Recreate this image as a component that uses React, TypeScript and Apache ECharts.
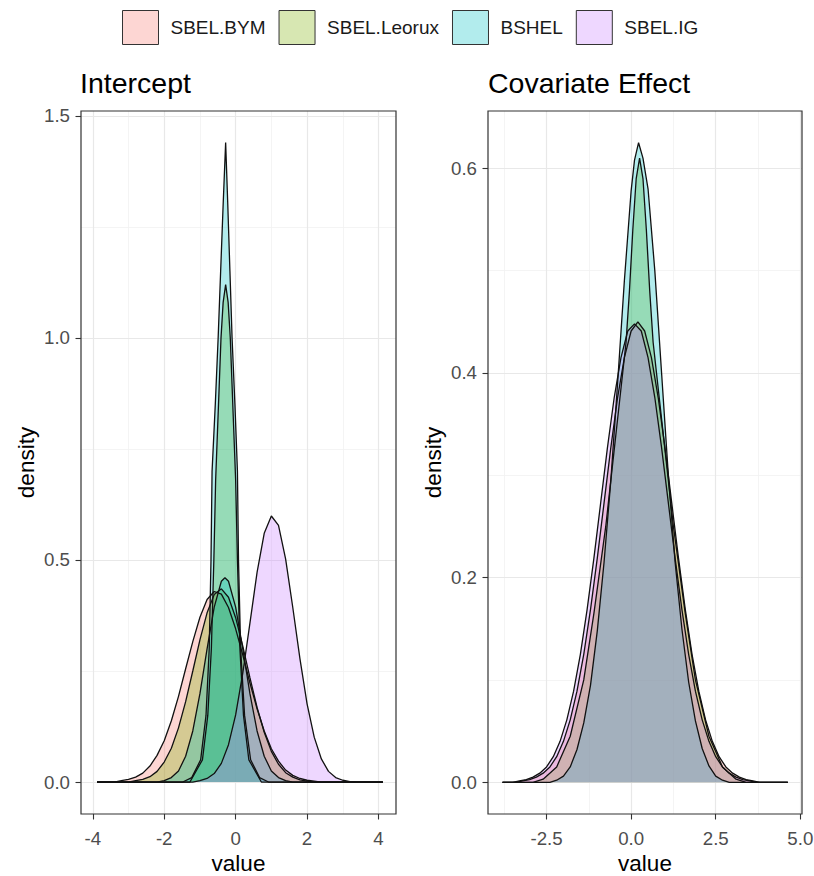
import React, { useEffect, useRef } from "react";
import * as echarts from "echarts";

type Point = [number, number];

const FONT = "'Liberation Sans', Arial, Helvetica, sans-serif";

const groups = ["SBEL.BYM", "SBEL.Leorux", "BSHEL", "SBEL.IG"];
const groupFills = [
  "rgba(248,118,109,0.3)",
  "rgba(124,174,0,0.3)",
  "rgba(0,191,196,0.3)",
  "rgba(199,124,255,0.3)",
];

const panelTitles = ["Intercept", "Covariate Effect"];
const xAxisTitle = "value";
const yAxisTitle = "density";

// Tick marks and grid lines
const interceptXTicks = [-4, -2, 0, 2, 4];
const interceptXMinor = [-3, -1, 1, 3];
const interceptYTicks = [0, 0.5, 1, 1.5];
const interceptYMinor = [0.25, 0.75, 1.25];
const covariateXTicks = [-2.5, 0, 2.5, 5];
const covariateXMinor = [-3.75, -1.25, 1.25, 3.75];
const covariateYTicks = [0, 0.2, 0.4, 0.6];
const covariateYMinor = [0.1, 0.3, 0.5];

// Intercept: posterior densities
const interceptBYM: Point[] = [
  [-3.88, 0], [-3.4, 0], [-3.2, 0.003], [-3.0, 0.006], [-2.8, 0.011], [-2.6, 0.02],
  [-2.4, 0.036], [-2.2, 0.06], [-2.0, 0.093], [-1.8, 0.138], [-1.6, 0.193], [-1.4, 0.255],
  [-1.2, 0.316], [-1.0, 0.371], [-0.8, 0.411], [-0.6, 0.429], [-0.4, 0.423], [-0.2, 0.393],
  [0, 0.345], [0.2, 0.286], [0.4, 0.223], [0.6, 0.165], [0.8, 0.115], [1.0, 0.075],
  [1.2, 0.047], [1.4, 0.027], [1.6, 0.015], [1.8, 0.008], [2.0, 0.004], [2.2, 0.002],
  [2.4, 0], [4.12, 0],
];
const interceptLeorux: Point[] = [
  [-3.88, 0], [-3.0, 0], [-2.8, 0.003], [-2.6, 0.006], [-2.4, 0.012], [-2.2, 0.024],
  [-2.0, 0.045], [-1.8, 0.076], [-1.6, 0.122], [-1.4, 0.181], [-1.2, 0.25], [-1.0, 0.32],
  [-0.8, 0.381], [-0.6, 0.422], [-0.4, 0.435], [-0.2, 0.416], [0, 0.37], [0.2, 0.306],
  [0.4, 0.235], [0.6, 0.168], [0.8, 0.112], [1.0, 0.069], [1.2, 0.04], [1.4, 0.021],
  [1.6, 0.011], [1.8, 0.005], [2.0, 0.002], [2.2, 0], [4.12, 0],
];
const interceptLeoruxPeak: Point[] = [
  [-3.88, 0], [-1.28, 0], [-0.93, 0.05], [-0.78, 0.15], [-0.68, 0.3], [-0.61, 0.5],
  [-0.56, 0.68], [-0.48, 0.85], [-0.41, 1.0], [-0.35, 1.08], [-0.28, 1.12], [-0.21, 1.08],
  [-0.15, 1.0], [-0.08, 0.85], [0.0, 0.68], [0.05, 0.5], [0.12, 0.3], [0.22, 0.15],
  [0.37, 0.05], [0.72, 0], [4.12, 0],
];
const interceptBSHEL: Point[] = [
  [-3.88, 0], [-2.2, 0], [-2.0, 0.003], [-1.8, 0.01], [-1.6, 0.025], [-1.4, 0.058],
  [-1.2, 0.115], [-1.0, 0.199], [-0.8, 0.3], [-0.6, 0.394], [-0.4, 0.452], [-0.3, 0.46],
  [-0.2, 0.452], [0, 0.394], [0.2, 0.3], [0.4, 0.199], [0.6, 0.115], [0.8, 0.058],
  [1.0, 0.025], [1.2, 0.01], [1.4, 0.003], [1.6, 0], [4.12, 0],
];
const interceptBSHELPeak: Point[] = [
  [-3.88, 0], [-1.48, 0], [-1.23, 0.01], [-0.98, 0.05], [-0.83, 0.15], [-0.74, 0.3],
  [-0.69, 0.5], [-0.66, 0.7], [-0.57, 0.85], [-0.49, 1.0], [-0.42, 1.15], [-0.35, 1.3],
  [-0.28, 1.44], [-0.22, 1.3], [-0.16, 1.15], [-0.1, 1.0], [-0.02, 0.85], [0.05, 0.7],
  [0.08, 0.5], [0.14, 0.3], [0.25, 0.15], [0.42, 0.05], [0.67, 0.01], [0.92, 0], [4.12, 0],
];
const interceptIG: Point[] = [
  [-3.88, 0], [-1.2, 0], [-1.0, 0.003], [-0.8, 0.008], [-0.6, 0.019], [-0.4, 0.042],
  [-0.2, 0.084], [0, 0.151], [0.2, 0.245], [0.4, 0.358], [0.6, 0.472], [0.8, 0.56],
  [1.0, 0.599], [1.2, 0.578], [1.4, 0.502], [1.6, 0.393], [1.8, 0.278], [2.0, 0.176],
  [2.2, 0.101], [2.4, 0.052], [2.6, 0.024], [2.8, 0.01], [3.0, 0.004], [3.2, 0.001],
  [3.4, 0], [4.12, 0],
];

// Covariate effect: posterior densities
const covariateBYM: Point[] = [
  [-3.8, 0], [-3.4, 0], [-3.2, 0.0014], [-3.0, 0.0027], [-2.8, 0.005], [-2.6, 0.0089],
  [-2.4, 0.015], [-2.2, 0.025], [-2.0, 0.04], [-1.8, 0.061], [-1.6, 0.089], [-1.4, 0.125],
  [-1.2, 0.169], [-1.0, 0.219], [-0.8, 0.273], [-0.6, 0.327], [-0.4, 0.376], [-0.2, 0.415],
  [0, 0.441], [0.2, 0.45], [0.4, 0.441], [0.6, 0.415], [0.8, 0.376], [1.0, 0.327],
  [1.2, 0.273], [1.4, 0.219], [1.6, 0.169], [1.8, 0.125], [2.0, 0.089], [2.2, 0.061],
  [2.4, 0.04], [2.6, 0.025], [2.8, 0.015], [3.0, 0.0089], [3.2, 0.005], [3.4, 0.0027],
  [3.6, 0.0014], [3.8, 0], [4.63, 0],
];
const covariateLeorux: Point[] = [
  [-3.8, 0], [-2.9, 0], [-2.6, 0.003], [-2.2, 0.015], [-1.8, 0.045], [-1.4, 0.1],
  [-1.1, 0.165], [-0.75, 0.25], [-0.45, 0.34], [-0.25, 0.4], [-0.15, 0.43], [-0.05, 0.48],
  [0.05, 0.54], [0.15, 0.59], [0.25, 0.61], [0.35, 0.59], [0.45, 0.54], [0.55, 0.48],
  [0.65, 0.43], [0.75, 0.4], [0.95, 0.34], [1.25, 0.25], [1.6, 0.165], [1.9, 0.1],
  [2.3, 0.045], [2.7, 0.015], [3.1, 0.003], [3.4, 0], [4.63, 0],
];
const covariateBSHEL: Point[] = [
  [-3.8, 0], [-2.4, 0], [-2.2, 0.002], [-2.0, 0.006], [-1.8, 0.015], [-1.6, 0.032],
  [-1.4, 0.058], [-1.2, 0.095], [-1.0, 0.148], [-0.8, 0.215], [-0.6, 0.295], [-0.4, 0.39],
  [-0.2, 0.49], [0, 0.578], [0.1, 0.608], [0.22, 0.625], [0.35, 0.61], [0.5, 0.58],
  [0.7, 0.5], [0.9, 0.4], [1.1, 0.3], [1.3, 0.215], [1.5, 0.15], [1.7, 0.098],
  [1.9, 0.06], [2.1, 0.033], [2.3, 0.016], [2.5, 0.006], [2.7, 0.002], [2.9, 0], [4.63, 0],
];
const covariateIG: Point[] = [
  [-3.8, 0], [-3.5, 0], [-3.3, 0.0014], [-3.1, 0.0027], [-2.9, 0.005], [-2.7, 0.0089],
  [-2.5, 0.015], [-2.3, 0.025], [-2.1, 0.04], [-1.9, 0.061], [-1.7, 0.089], [-1.5, 0.125],
  [-1.3, 0.169], [-1.1, 0.219], [-0.9, 0.273], [-0.7, 0.327], [-0.5, 0.376], [-0.3, 0.415],
  [-0.1, 0.441], [0.1, 0.448], [0.3, 0.441], [0.5, 0.415], [0.7, 0.376], [0.9, 0.327],
  [1.1, 0.273], [1.3, 0.219], [1.5, 0.169], [1.7, 0.125], [1.9, 0.089], [2.1, 0.061],
  [2.3, 0.04], [2.5, 0.025], [2.7, 0.015], [2.9, 0.0089], [3.1, 0.005], [3.3, 0.0027],
  [3.5, 0.0014], [3.7, 0], [4.63, 0],
];

type Curve = { group: number; data: Point[] };
type Panel = {
  title: string;
  titleLeft: number;
  grid: { left: number; top: number; width: number; height: number };
  xRange: [number, number];
  yRange: [number, number];
  xTicks: number[];
  xMinor: number[];
  yTicks: number[];
  yMinor: number[];
  xFormat: (v: number) => string;
  curves: Curve[];
};

const panels: Panel[] = [
  {
    title: panelTitles[0],
    titleLeft: 80,
    grid: { left: 81, top: 111, width: 315, height: 703 },
    xRange: [-4.33, 4.49],
    yRange: [-0.072, 1.511],
    xTicks: interceptXTicks,
    xMinor: interceptXMinor,
    yTicks: interceptYTicks,
    yMinor: interceptYMinor,
    xFormat: (v) => String(v),
    curves: [
      { group: 0, data: interceptBYM },
      { group: 1, data: interceptLeorux },
      { group: 1, data: interceptLeoruxPeak },
      { group: 2, data: interceptBSHEL },
      { group: 2, data: interceptBSHELPeak },
      { group: 3, data: interceptIG },
    ],
  },
  {
    title: panelTitles[1],
    titleLeft: 488,
    grid: { left: 488, top: 111, width: 314, height: 703 },
    xRange: [-4.23, 5.05],
    yRange: [-0.031, 0.656],
    xTicks: covariateXTicks,
    xMinor: covariateXMinor,
    yTicks: covariateYTicks,
    yMinor: covariateYMinor,
    xFormat: (v) => v.toFixed(1),
    curves: [
      { group: 0, data: covariateBYM },
      { group: 1, data: covariateLeorux },
      { group: 2, data: covariateBSHEL },
      { group: 3, data: covariateIG },
    ],
  },
];

const majorLine = { color: "#e8e8e8", width: 1.2, type: "solid" };
const minorLine = { color: "#f1f1f1", width: 0.8, type: "solid" };

function buildOption(): any {
  return {
    animation: false,
    backgroundColor: "#ffffff",
    textStyle: { fontFamily: FONT },
    title: panels.map((p) => ({
      text: p.title,
      left: p.titleLeft,
      top: 68,
      padding: 0,
      textStyle: { fontSize: 28.5, fontWeight: "normal", color: "#000", fontFamily: FONT },
    })),
    legend: {
      top: 10,
      left: 122,
      padding: 0,
      itemWidth: 36,
      itemHeight: 34,
      itemGap: 13,
      symbolKeepAspect: false,
      selectedMode: false,
      textStyle: { fontSize: 19, color: "#1a1a1a", padding: [0, 0, 0, 7], fontFamily: FONT },
      data: groups.map((g, i) => ({
        name: g,
        icon: "rect",
        itemStyle: { color: groupFills[i], borderColor: "#333", borderWidth: 1 },
      })),
    },
    grid: panels.map((p) => ({
      ...p.grid,
      show: true,
      z: 10,
      backgroundColor: "transparent",
      borderColor: "#333",
      borderWidth: 1.2,
      containLabel: false,
      outerBoundsMode: "none",
    })),
    xAxis: panels.map((p, i) => ({
      type: "value",
      gridIndex: i,
      min: p.xRange[0],
      max: p.xRange[1],
      name: xAxisTitle,
      nameLocation: "middle",
      nameGap: 38,
      nameMoveOverlap: false,
      nameTextStyle: { fontSize: 22.5, lineHeight: 22, color: "#000", fontFamily: FONT },
      axisLine: { show: false, onZero: false },
      axisTick: {
        show: true,
        customValues: p.xTicks,
        length: 5.5,
        lineStyle: { color: "#333", width: 1.1 },
      },
      axisLabel: {
        show: true,
        customValues: p.xTicks,
        formatter: p.xFormat,
        fontSize: 18.7,
        color: "#4d4d4d",
        margin: 15,
        fontFamily: FONT,
      },
      splitLine: { show: false },
    })),
    yAxis: panels.map((p, i) => ({
      type: "value",
      gridIndex: i,
      min: p.yRange[0],
      max: p.yRange[1],
      name: yAxisTitle,
      nameLocation: "middle",
      nameGap: 43.5,
      nameMoveOverlap: false,
      nameTextStyle: { fontSize: 22.5, color: "#000", fontFamily: FONT },
      axisLine: { show: false, onZero: false },
      axisTick: {
        show: true,
        customValues: p.yTicks,
        length: 5.5,
        lineStyle: { color: "#333", width: 1.1 },
      },
      axisLabel: {
        show: true,
        customValues: p.yTicks,
        formatter: (v: number) => v.toFixed(1),
        fontSize: 18.7,
        color: "#4d4d4d",
        margin: 11,
        fontFamily: FONT,
      },
      splitLine: { show: false },
    })),
    series: panels.flatMap((p, i) => [
      {
        type: "line",
        name: "panel-grid-" + i,
        xAxisIndex: i,
        yAxisIndex: i,
        data: [],
        silent: true,
        symbol: "none",
        markLine: {
          silent: true,
          symbol: ["none", "none"],
          z: 1,
          animation: false,
          label: { show: false },
          emphasis: { disabled: true },
          data: [
            ...p.xMinor.map((v) => ({ xAxis: v, lineStyle: minorLine })),
            ...p.yMinor.map((v) => ({ yAxis: v, lineStyle: minorLine })),
            ...p.xTicks.map((v) => ({ xAxis: v, lineStyle: majorLine })),
            ...p.yTicks.map((v) => ({ yAxis: v, lineStyle: majorLine })),
          ],
        },
      },
      ...p.curves.map((c) => ({
        type: "line",
        name: groups[c.group],
        xAxisIndex: i,
        yAxisIndex: i,
        data: c.data,
        symbol: "none",
        showSymbol: false,
        silent: true,
        z: 2,
        lineStyle: { color: "#111", width: 1.3 },
        itemStyle: { color: groupFills[c.group] },
        areaStyle: { color: groupFills[c.group], opacity: 1 },
      })),
    ]),
  };
}

export default function App() {
  const ref = useRef<HTMLDivElement>(null);
  useEffect(() => {
    if (!ref.current) return;
    const chart = echarts.init(ref.current, undefined, { renderer: "svg" });
    chart.setOption(buildOption());
    return () => chart.dispose();
  }, []);
  return (
    <div
      ref={ref}
      style={{ position: "absolute", left: 0, top: 0, width: 814, height: 876, background: "#fff" }}
    />
  );
}
